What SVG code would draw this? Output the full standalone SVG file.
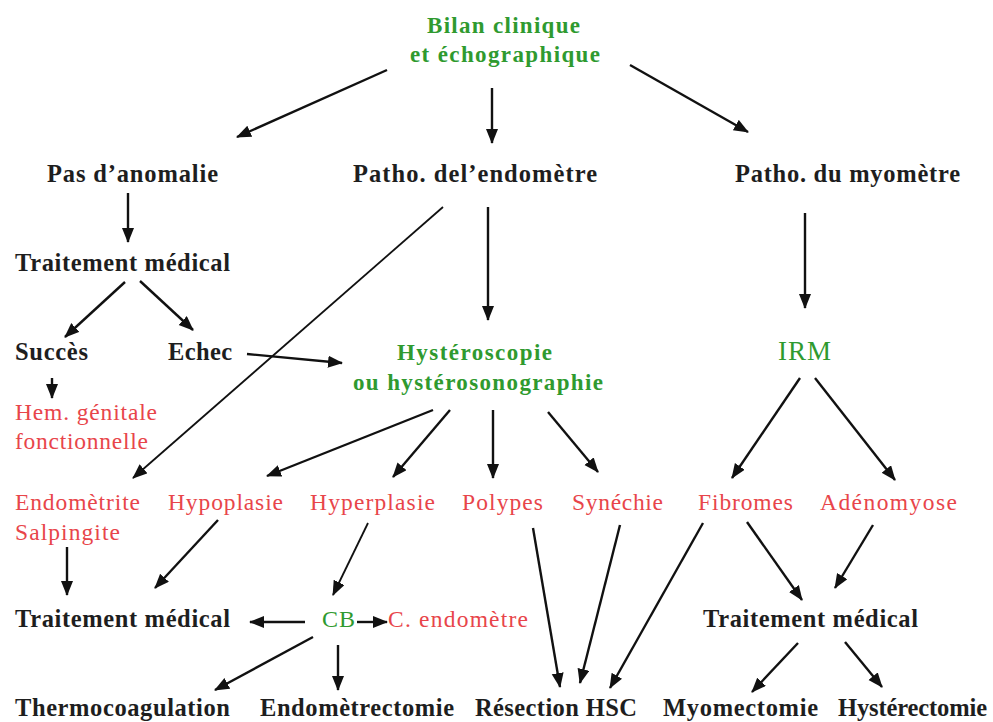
<svg xmlns="http://www.w3.org/2000/svg" width="993" height="722" viewBox="0 0 993 722">
<style>
text{font-family:"Liberation Serif","Times New Roman",serif;}
.k{fill:#1e1e1e;font-weight:bold;font-size:24.5px;}
.g{fill:#2f9a2f;font-weight:bold;font-size:23px;}
.gr{fill:#2f9a2f;font-size:24px;}
.r{fill:#e8454a;font-size:23.5px;}
.c line{stroke:#111;stroke-width:2.4;marker-end:url(#ah);}
.c line.t{stroke-width:1.8;}
</style>
<defs>
<marker id="ah" markerUnits="userSpaceOnUse" markerWidth="16" markerHeight="14" refX="14" refY="6" orient="auto">
<path d="M0,0 L15,6 L0,12 z" fill="#111"/>
</marker>
</defs>
<rect width="993" height="722" fill="#fff"/>
<g class="c" id="connectors">
<line x1="387" y1="70" x2="237" y2="137"/>
<line x1="492" y1="88" x2="492" y2="143"/>
<line x1="630" y1="65" x2="748" y2="132"/>
<line x1="128" y1="193" x2="128" y2="242"/>
<line class="t" x1="443" y1="207" x2="133" y2="478"/>
<line x1="488" y1="207" x2="488" y2="320"/>
<line x1="805" y1="213" x2="805" y2="308"/>
<line x1="125" y1="282" x2="65" y2="337"/>
<line x1="140" y1="281" x2="193" y2="330"/>
<line x1="247" y1="354" x2="342" y2="363"/>
<line x1="52" y1="378" x2="52" y2="398"/>
<line x1="433" y1="410" x2="267" y2="476"/>
<line x1="450" y1="410" x2="393" y2="477"/>
<line x1="493" y1="410" x2="493" y2="478"/>
<line x1="548" y1="412" x2="598" y2="472"/>
<line x1="800" y1="378" x2="732" y2="478"/>
<line x1="815" y1="378" x2="895" y2="480"/>
<line x1="67" y1="547" x2="67" y2="595"/>
<line x1="218" y1="520" x2="155" y2="588"/>
<line class="t" x1="368" y1="523" x2="333" y2="595"/>
<line x1="533" y1="528" x2="560" y2="687"/>
<line x1="620" y1="525" x2="580" y2="683"/>
<line x1="703" y1="523" x2="610" y2="688"/>
<line x1="747" y1="522" x2="802" y2="600"/>
<line x1="873" y1="525" x2="835" y2="588"/>
<line x1="305" y1="622" x2="250" y2="622"/>
<line x1="357" y1="622" x2="387" y2="622"/>
<line x1="313" y1="637" x2="215" y2="690"/>
<line x1="338" y1="645" x2="338" y2="690"/>
<line x1="798" y1="643" x2="752" y2="692"/>
<line x1="845" y1="642" x2="882" y2="687"/>
</g>
<g id="bilan"><text class="g" x="427" y="33" textLength="153" lengthAdjust="spacing">Bilan clinique</text><text class="g" x="410" y="62" textLength="190" lengthAdjust="spacing">et échographique</text></g>
<g id="pas-anomalie"><text class="k" x="47" y="182" textLength="171" lengthAdjust="spacing">Pas d’anomalie</text></g>
<g id="patho-endometre"><text class="k" x="353" y="182" textLength="244" lengthAdjust="spacing">Patho. del’endomètre</text></g>
<g id="patho-myometre"><text class="k" x="735" y="182" textLength="225" lengthAdjust="spacing">Patho. du myomètre</text></g>
<g id="traitement1"><text class="k" x="15" y="271" textLength="215" lengthAdjust="spacing">Traitement médical</text></g>
<g id="succes"><text class="k" x="15" y="360" textLength="73" lengthAdjust="spacing">Succès</text></g>
<g id="echec"><text class="k" x="168" y="360" textLength="64" lengthAdjust="spacing">Echec</text></g>
<g id="hem"><text class="r" x="15" y="420" textLength="142" lengthAdjust="spacing">Hem. génitale</text><text class="r" x="15" y="449" textLength="133" lengthAdjust="spacing">fonctionnelle</text></g>
<g id="hysteroscopie"><text class="g" x="397" y="360" textLength="155" lengthAdjust="spacing">Hystéroscopie</text><text class="g" x="353" y="390" textLength="250" lengthAdjust="spacing">ou hystérosonographie</text></g>
<g id="irm"><text class="gr" x="778" y="360" style="font-size:27px" textLength="53" lengthAdjust="spacing">IRM</text></g>
<g id="endometrite"><text class="r" x="15" y="510" textLength="125" lengthAdjust="spacing">Endomètrite</text><text class="r" x="15" y="540" textLength="105" lengthAdjust="spacing">Salpingite</text></g>
<g id="hypoplasie"><text class="r" x="168" y="510" textLength="115" lengthAdjust="spacing">Hypoplasie</text></g>
<g id="hyperplasie"><text class="r" x="310" y="510" textLength="125" lengthAdjust="spacing">Hyperplasie</text></g>
<g id="polypes"><text class="r" x="462" y="510" textLength="81" lengthAdjust="spacing">Polypes</text></g>
<g id="synechie"><text class="r" x="572" y="510" textLength="91" lengthAdjust="spacing">Synéchie</text></g>
<g id="fibromes"><text class="r" x="698" y="510" textLength="95" lengthAdjust="spacing">Fibromes</text></g>
<g id="adenomyose"><text class="r" x="820" y="510" textLength="137" lengthAdjust="spacing">Adénomyose</text></g>
<g id="traitement2"><text class="k" x="15" y="627" textLength="215" lengthAdjust="spacing">Traitement médical</text></g>
<g id="cb"><text class="gr" x="322" y="627" textLength="33" lengthAdjust="spacing">CB</text></g>
<g id="c-endometre"><text class="r" x="388" y="627" textLength="140" lengthAdjust="spacing">C. endomètre</text></g>
<g id="traitement3"><text class="k" x="703" y="627" textLength="215" lengthAdjust="spacing">Traitement médical</text></g>
<g id="thermocoagulation"><text class="k" x="15" y="716" textLength="215" lengthAdjust="spacing">Thermocoagulation</text></g>
<g id="endometrectomie"><text class="k" x="260" y="716" textLength="194" lengthAdjust="spacing">Endomètrectomie</text></g>
<g id="resection"><text class="k" x="475" y="716" textLength="162" lengthAdjust="spacing">Résection HSC</text></g>
<g id="myomectomie"><text class="k" x="663" y="716" textLength="155" lengthAdjust="spacing">Myomectomie</text></g>
<g id="hysterectomie"><text class="k" x="838" y="716" textLength="149" lengthAdjust="spacing">Hystérectomie</text></g>
</svg>
